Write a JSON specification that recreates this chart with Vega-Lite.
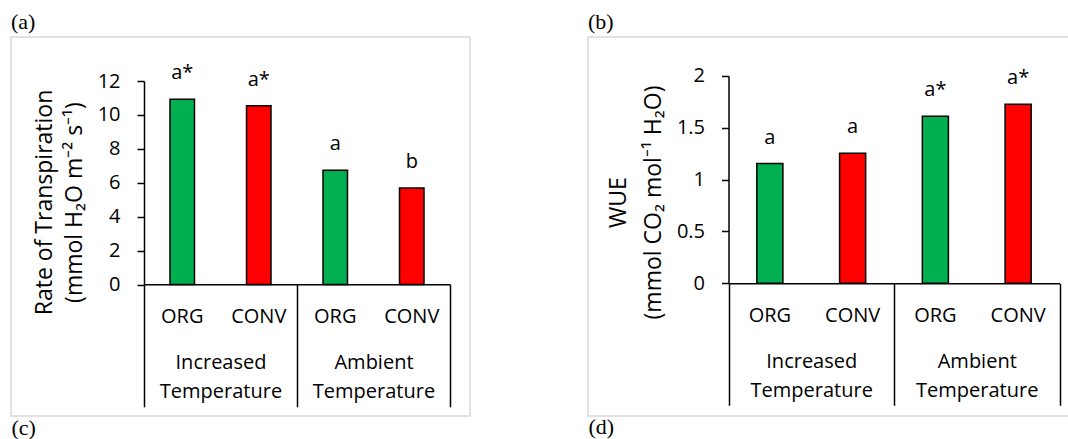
{
  "$schema": "https://vega.github.io/schema/vega-lite/v6.json",
  "padding": {"left": 10, "top": 10, "right": 0, "bottom": 0},
  "spacing": 116,
  "config": {
    "font": "Open Sans",
    "view": {"stroke": "#d9d9d9", "strokeWidth": 1.5},
    "axis": {"labelColor": "black", "titleColor": "black", "labelFontSize": 20, "titleFontSize": 23, "titleFontWeight": "normal", "domainColor": "black", "tickColor": "black", "domainWidth": 1.5, "tickWidth": 1.5, "grid": false, "labelOverlap": false, "labelFlush": false, "labelLimit": 400},
    "title": {"font": "Liberation Serif", "fontSize": 22, "fontWeight": "normal", "anchor": "start", "frame": "group", "offset": 3, "color": "black"}
  },
  "datasets": {
    "transp": [
      {"key": "Increased|ORG", "group": "Increased Temperature", "system": "ORG", "value": 10.93, "sig": "a*"},
      {"key": "Increased|CONV", "group": "Increased Temperature", "system": "CONV", "value": 10.54, "sig": "a*"},
      {"key": "Ambient|ORG", "group": "Ambient Temperature", "system": "ORG", "value": 6.74, "sig": "a"},
      {"key": "Ambient|CONV", "group": "Ambient Temperature", "system": "CONV", "value": 5.69, "sig": "b"}
    ],
    "wue": [
      {"key": "Increased|ORG", "group": "Increased Temperature", "system": "ORG", "value": 1.154, "sig": "a"},
      {"key": "Increased|CONV", "group": "Increased Temperature", "system": "CONV", "value": 1.254, "sig": "a"},
      {"key": "Ambient|ORG", "group": "Ambient Temperature", "system": "ORG", "value": 1.61, "sig": "a*"},
      {"key": "Ambient|CONV", "group": "Ambient Temperature", "system": "CONV", "value": 1.725, "sig": "a*"}
    ]
  },
  "hconcat": [
    {
      "width": 459,
      "height": 379,
      "title": "(a)",
      "data": {"name": "transp"},
      "resolve": {"scale": {"x": "independent"}, "axis": {"x": "independent"}},
      "layer": [
        {
          "layer": [
            {
              "mark": {"type": "bar", "stroke": "black", "strokeWidth": 1.5},
              "encoding": {
                "x": {"field": "key", "type": "nominal", "sort": null,
                  "scale": {"range": [133, 439], "paddingInner": 0.68, "paddingOuter": 0.34},
                  "axis": {"orient": "bottom", "offset": -131.7, "ticks": false, "labelExpr": "split(datum.label,'|')[1]", "labelPadding": 32, "labelBaseline": "middle", "labelAngle": 0, "title": null}},
                "y": {"field": "value", "type": "quantitative",
                  "scale": {"domain": [0, 12], "range": [247.5, 44], "nice": false, "zero": true},
                  "axis": {"orient": "left", "offset": -133, "values": [0, 2, 4, 6, 8, 10, 12], "format": "~g", "tickSize": 7, "labelPadding": 17, "titlePadding": 11, "titleLineHeight": 30, "titleY": 165,
                    "title": ["Rate of Transpiration", "(mmol H₂O m⁻² s⁻¹)"]}},
                "color": {"field": "system", "type": "nominal", "scale": {"domain": ["ORG", "CONV"], "range": ["#00B050", "#FF0000"]}, "legend": null}
              }
            },
            {
              "mark": {"type": "text", "fontSize": 20, "baseline": "middle", "dy": -26, "color": "black"},
              "encoding": {
                "x": {"field": "key", "type": "nominal", "sort": null},
                "y": {"field": "value", "type": "quantitative"},
                "text": {"field": "sig"}
              }
            }
          ]
        },
        {
          "mark": {"type": "text", "text": ""},
          "encoding": {
            "x": {"field": "group", "type": "nominal", "sort": null,
              "scale": {"range": [133, 439], "paddingInner": 0, "paddingOuter": 0},
              "axis": {"orient": "bottom", "offset": -131.7, "domain": false, "ticks": true, "tickBand": "extent", "tickSize": 122.5, "labelExpr": "split(datum.label,' ')", "labelPadding": -54, "labelBaseline": "top", "labelLineHeight": 29, "labelAngle": 0,
                "title": "(c)", "titleX": 0, "titleY": 133, "titleAlign": "left", "titleAngle": 0, "titleBaseline": "top", "titleFont": "Liberation Serif", "titleFontSize": 22}}
          }
        }
      ]
    },
    {
      "width": 490,
      "height": 379,
      "title": "(b)",
      "data": {"name": "wue"},
      "resolve": {"scale": {"x": "independent"}, "axis": {"x": "independent"}},
      "layer": [
        {
          "layer": [
            {
              "mark": {"type": "bar", "stroke": "black", "strokeWidth": 1.5},
              "encoding": {
                "x": {"field": "key", "type": "nominal", "sort": null,
                  "scale": {"range": [140.5, 471.5], "paddingInner": 0.685, "paddingOuter": 0.3425},
                  "axis": {"orient": "bottom", "offset": -132.7, "ticks": false, "labelExpr": "split(datum.label,'|')[1]", "labelPadding": 32, "labelBaseline": "middle", "labelAngle": 0, "title": null}},
                "y": {"field": "value", "type": "quantitative",
                  "scale": {"domain": [0, 2], "range": [246.3, 38.7], "nice": false, "zero": true},
                  "axis": {"orient": "left", "offset": -140.5, "values": [0, 0.5, 1, 1.5, 2], "format": "~g", "tickSize": 7, "labelPadding": 17, "titlePadding": 11, "titleLineHeight": 35, "titleY": 165,
                    "title": ["WUE", "(mmol CO₂ mol⁻¹ H₂O)"]}},
                "color": {"field": "system", "type": "nominal", "scale": {"domain": ["ORG", "CONV"], "range": ["#00B050", "#FF0000"]}, "legend": null}
              }
            },
            {
              "mark": {"type": "text", "fontSize": 20, "baseline": "middle", "dy": -26, "color": "black"},
              "encoding": {
                "x": {"field": "key", "type": "nominal", "sort": null},
                "y": {"field": "value", "type": "quantitative"},
                "text": {"field": "sig"}
              }
            }
          ]
        },
        {
          "mark": {"type": "text", "text": ""},
          "encoding": {
            "x": {"field": "group", "type": "nominal", "sort": null,
              "scale": {"range": [140.5, 471.5], "paddingInner": 0, "paddingOuter": 0},
              "axis": {"orient": "bottom", "offset": -132.7, "domain": false, "ticks": true, "tickBand": "extent", "tickSize": 122, "labelExpr": "split(datum.label,' ')", "labelPadding": -54, "labelBaseline": "top", "labelLineHeight": 29, "labelAngle": 0,
                "title": "(d)", "titleX": 0, "titleY": 133, "titleAlign": "left", "titleAngle": 0, "titleBaseline": "top", "titleFont": "Liberation Serif", "titleFontSize": 22}}
          }
        }
      ]
    }
  ]
}
